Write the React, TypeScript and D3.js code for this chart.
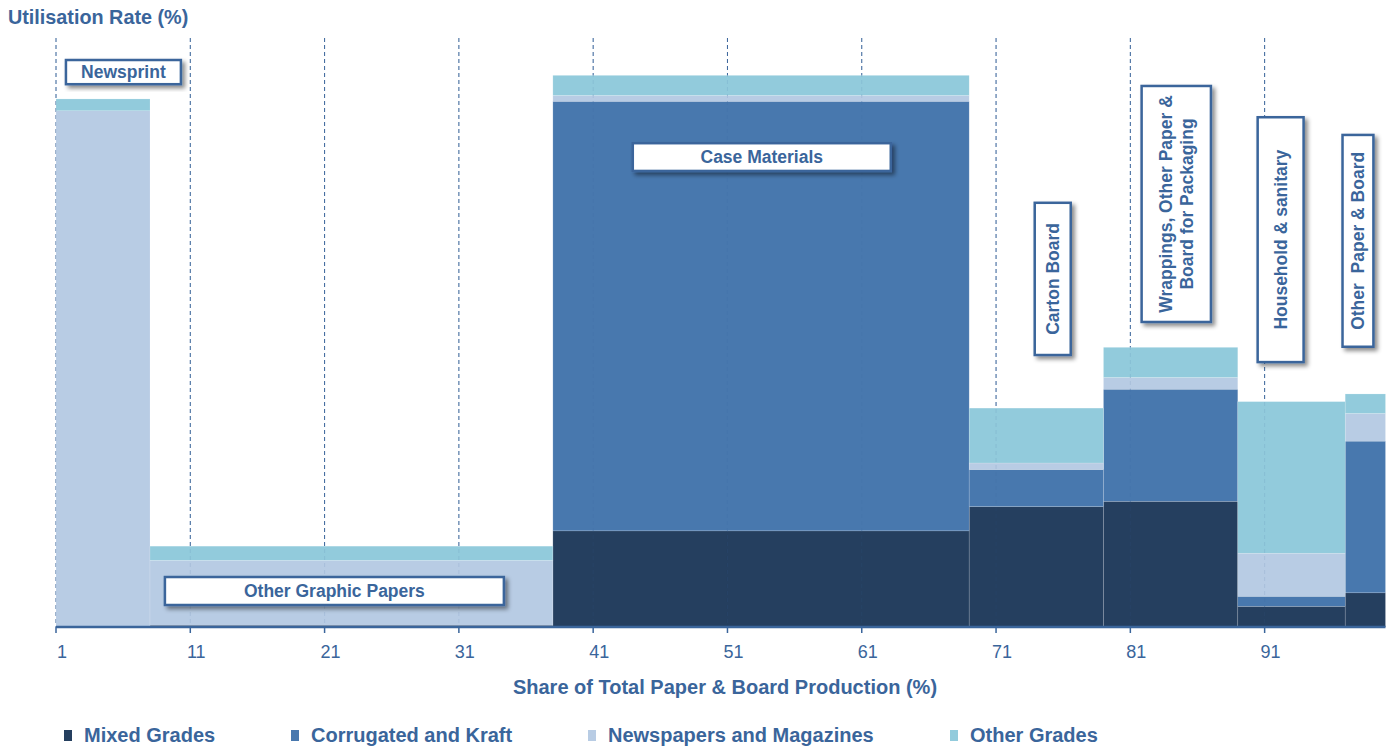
import React from "react";
import * as d3 from "d3";

// ---- Data ----
const categories = [
  "Newsprint",
  "Other Graphic Papers",
  "Case Materials",
  "Carton Board",
  "Wrappings, Other Paper & Board for Packaging",
  "Household & sanitary",
  "Other Paper & Board",
];
// share of total paper & board production (%) = bar width
const shares = [7, 30, 31, 10, 10, 8, 3];
// utilisation rate contributions (%)
const mixedGrades = [0, 0.3, 16.3, 20.4, 21.3, 3.5, 5.8];
const corrugatedKraft = [0, 0, 72.8, 6.3, 19.0, 1.7, 25.7];
const newspapersMagazines = [87.5, 11.0, 1.0, 1.1, 2.0, 7.3, 4.7];
const otherGrades = [2.0, 2.4, 3.4, 9.3, 5.1, 25.7, 3.3];

const seriesNames = ["Mixed Grades", "Corrugated and Kraft", "Newspapers and Magazines", "Other Grades"];
const seriesKeys = ["mixed", "corr", "news", "other"];
const xTicks = [1, 11, 21, 31, 41, 51, 61, 71, 81, 91];

// label box text lines (per category)
const labelLines = [
  ["Newsprint"],
  ["Other Graphic Papers"],
  ["Case Materials"],
  ["Carton Board"],
  ["Wrappings, Other Paper &", "Board for Packaging"],
  ["Household & sanitary"],
  ["Other  Paper & Board"],
];

// ---- Layout / style ----
const colors = ["#253f5f", "#4878ae", "#b8cce4", "#92cbdc"];
const textColor = "#3a659b";
const font = "'Liberation Sans', Arial, sans-serif";

// label boxes in data units: [x0, x1, y0, y1], vertical flag
const labelBoxes = [
  { x0: 1.74, x1: 10.3, y0: 92.0, y1: 96.1, vertical: false },
  { x0: 9.11, x1: 34.35, y0: 3.73, y1: 8.47, vertical: false },
  { x0: 43.95, x1: 63.16, y0: 77.3, y1: 82.0, vertical: false },
  { x0: 73.88, x1: 76.56, y0: 46.1, y1: 71.9, vertical: true },
  { x0: 81.84, x1: 87.0, y0: 51.7, y1: 91.7, vertical: true },
  { x0: 90.48, x1: 93.9, y0: 44.9, y1: 86.4, vertical: true },
  { x0: 96.8, x1: 99.1, y0: 47.5, y1: 83.4, vertical: true },
];

const legendX = [84, 311, 608, 970];

export default function App() {
  const width = 1396;
  const height = 746;
  const x = d3.scaleLinear().domain([1, 100]).range([56, 1385.5]);
  const y = d3.scaleLinear().domain([0, 100]).range([627, 37]);

  // cumulative x start
  const starts: number[] = [];
  let acc = 1;
  shares.forEach((s) => {
    starts.push(acc);
    acc += s;
  });

  const rows = categories.map((c, i) => ({
    cat: c,
    mixed: mixedGrades[i],
    corr: corrugatedKraft[i],
    news: newspapersMagazines[i],
    other: otherGrades[i],
  }));
  const stack = d3.stack<any>().keys(seriesKeys);
  const stacked = stack(rows);

  return (
    <div style={{ position: "fixed", left: 0, top: 0, width, height, overflow: "hidden" }}>
      <style>{`html,body{margin:0;padding:0;overflow:hidden;}`}</style>
      <svg width={width} height={height} style={{ display: "block", background: "#fff" }}>
        <defs>
          <filter id="shadow" x="-20%" y="-20%" width="150%" height="150%">
            <feDropShadow dx="3" dy="3" stdDeviation="2" floodColor="#000" floodOpacity="0.45" />
          </filter>
        </defs>

        {/* y title */}
        <text x={8} y={24} fontFamily={font} fontWeight="bold" fontSize={19.8} fill={textColor}>
          Utilisation Rate (%)
        </text>

        {/* dashed grid lines */}
        {xTicks.map((t) => (
          <line
            key={"g" + t}
            x1={x(t)}
            x2={x(t)}
            y1={38}
            y2={y(0)}
            stroke={textColor}
            strokeWidth={1}
            strokeDasharray="4,3"
          />
        ))}

        {/* bars */}
        {stacked.map((layer, si) => (
          <g key={layer.key} fill={colors[si]}>
            {layer.map((d, i) => {
              const h = y(d[0]) - y(d[1]);
              if (h <= 0) return null;
              return (
                <rect
                  key={i}
                  x={x(starts[i])}
                  width={x(starts[i] + shares[i]) - x(starts[i])}
                  y={y(d[1])}
                  height={h}
                  stroke="rgba(255,255,255,0.25)"
                  strokeWidth={0.6}
                />
              );
            })}
          </g>
        ))}

        {/* faint grid overlay */}
        {xTicks.map((t) => (
          <line
            key={"go" + t}
            x1={x(t)}
            x2={x(t)}
            y1={38}
            y2={y(0)}
            stroke={textColor}
            strokeOpacity={0.12}
            strokeWidth={1}
            strokeDasharray="4,3"
          />
        ))}

        {/* x axis */}
        <line x1={x(1)} x2={x(100)} y1={y(0)} y2={y(0)} stroke={textColor} strokeWidth={2.5} />
        {xTicks.map((t) => (
          <g key={"t" + t}>
            <line x1={x(t)} x2={x(t)} y1={y(0)} y2={y(0) + 6} stroke={textColor} strokeWidth={1.5} />
            <text
              x={x(t) + 6}
              y={658}
              textAnchor="middle"
              fontFamily={font}
              fontSize={18}
              fill={textColor}
            >
              {t}
            </text>
          </g>
        ))}
        <text x={725} y={694} textAnchor="middle" fontFamily={font} fontWeight="bold" fontSize={20} fill={textColor}>
          Share of Total Paper &amp; Board Production (%)
        </text>

        {/* label boxes */}
        {labelBoxes.map((b, i) => {
          const bx = x(b.x0);
          const bw = x(b.x1) - x(b.x0);
          const by = y(b.y1);
          const bh = y(b.y0) - y(b.y1);
          const cx = bx + bw / 2;
          const cy = by + bh / 2;
          const lines = labelLines[i];
          const lh = 21;
          return (
            <g key={"lb" + i}>
              <rect
                x={bx}
                y={by}
                width={bw}
                height={bh}
                fill="#fff"
                stroke={textColor}
                strokeWidth={2.5}
                filter="url(#shadow)"
              />
              <g transform={b.vertical ? `translate(${cx},${cy}) rotate(-90)` : `translate(${cx},${cy})`}>
                {lines.map((ln, li) => (
                  <text
                    key={li}
                    x={0}
                    y={(li - (lines.length - 1) / 2) * lh}
                    textAnchor="middle"
                    dominantBaseline="central"
                    fontFamily={font}
                    fontWeight="bold"
                    fontSize={17.5}
                    fill={textColor}
                    style={{ whiteSpace: "pre" }}
                  >
                    {ln}
                  </text>
                ))}
              </g>
            </g>
          );
        })}

        {/* legend */}
        {seriesNames.map((n, i) => (
          <g key={"lg" + i}>
            <rect x={legendX[i] - 20} y={730} width={8} height={11} fill={colors[i]} />
            <text x={legendX[i]} y={742} fontFamily={font} fontWeight="bold" fontSize={20} fill={textColor}>
              {n}
            </text>
          </g>
        ))}
      </svg>
    </div>
  );
}
